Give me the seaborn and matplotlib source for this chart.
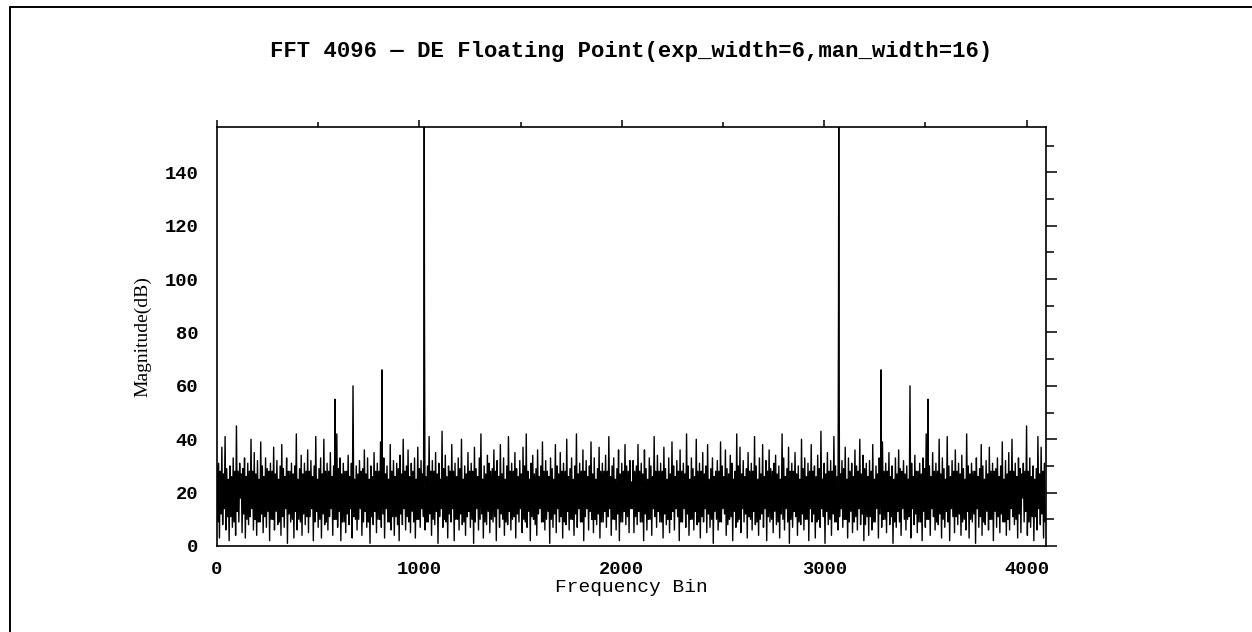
import matplotlib
matplotlib.use("Agg")
import matplotlib.pyplot as plt
from matplotlib.lines import Line2D
from matplotlib.ticker import MultipleLocator
import numpy as np
import pandas as pd
import seaborn as sns

# half spectrum (bins 0..2048), every 4 bins; the
# other half is the mirror image (real-input FFT)
N_FFT = 4096
BIN_STEP = 4
noise_db = [
    30, 9, 31, 3, 28, 12, 37, 8, 27, 14, 41, 6, 29, 11, 25, 2,
    30, 11, 26, 7, 33, 9, 28, 4, 45, 13, 28, 9, 31, 18, 27, 5,
    29, 12, 33, 3, 26, 10, 31, 8, 28, 11, 40, 14, 28, 6, 35, 10,
    27, 4, 32, 9, 25, 9, 39, 12, 30, 5, 26, 11, 33, 7, 29, 13,
    28, 2, 31, 10, 28, 10, 37, 6, 27, 13, 32, 8, 25, 9, 30, 4,
    38, 11, 29, 7, 26, 14, 33, 1, 28, 12, 28, 9, 31, 10, 27, 3,
    30, 13, 42, 6, 25, 10, 29, 9, 34, 4, 27, 12, 31, 8, 28, 11,
    36, 5, 28, 11, 32, 14, 26, 2, 30, 9, 41, 13, 25, 7, 29, 10,
    33, 3, 27, 12, 40, 8, 28, 9, 31, 6, 28, 11, 35, 14, 26, 4,
    30, 10, 25, 10, 42, 7, 29, 13, 33, 2, 27, 9, 31, 9, 28, 5,
    28, 12, 34, 8, 26, 14, 31, 3, 37, 11, 25, 10, 30, 6, 27, 10,
    32, 14, 28, 4, 29, 9, 36, 13, 27, 7, 33, 9, 25, 1, 30, 11,
    26, 8, 35, 13, 28, 5, 31, 10, 28, 10, 39, 7, 29, 12, 33, 3,
    27, 14, 30, 9, 25, 9, 38, 6, 28, 11, 32, 4, 26, 11, 31, 8,
    29, 2, 34, 12, 27, 8, 40, 14, 28, 6, 30, 11, 36, 9, 26, 5,
    31, 13, 28, 9, 33, 3, 25, 10, 37, 10, 29, 7, 32, 14, 27, 11,
    33, 6, 26, 9, 30, 9, 41, 12, 28, 4, 32, 10, 28, 8, 35, 13,
    27, 1, 31, 11, 25, 14, 43, 7, 29, 10, 34, 9, 26, 3, 30, 12,
    28, 9, 38, 14, 28, 2, 31, 10, 26, 10, 33, 6, 29, 12, 40, 8,
    25, 9, 30, 4, 27, 11, 35, 13, 28, 7, 31, 10, 28, 1, 37, 9,
    29, 14, 26, 6, 33, 10, 42, 12, 25, 3, 30, 9, 27, 8, 34, 13,
    31, 5, 28, 10, 29, 9, 36, 11, 28, 2, 32, 14, 26, 7, 38, 12,
    27, 10, 33, 4, 25, 9, 30, 8, 41, 13, 28, 6, 31, 10, 28, 11,
    35, 3, 29, 12, 26, 9, 32, 14, 27, 5, 37, 10, 30, 9, 42, 7,
    28, 13, 25, 2, 31, 11, 34, 10, 27, 8, 29, 4, 36, 12, 26, 14,
    30, 9, 39, 9, 28, 6, 32, 10, 28, 13, 26, 1, 33, 10, 29, 7,
    25, 12, 38, 5, 30, 14, 27, 9, 35, 11, 28, 3, 31, 9, 28, 8,
    40, 13, 26, 6, 29, 10, 33, 10, 25, 4, 30, 12, 42, 7, 27, 14,
    31, 9, 28, 9, 36, 2, 28, 11, 32, 14, 26, 6, 30, 13, 39, 10,
    27, 5, 33, 10, 25, 8, 29, 12, 37, 3, 28, 9, 31, 9, 28, 13,
    34, 7, 28, 11, 41, 14, 26, 4, 30, 10, 33, 10, 25, 6, 29, 12,
    36, 2, 27, 9, 31, 9, 28, 13, 38, 8, 30, 11, 28, 5, 32, 14,
    24,
]

# tone and spurs (half spectrum)
spur_bins = [583, 672, 815, 1023, 1024, 1025]
spur_db = [55, 60, 66, 91, 157, 91]

title = "FFT 4096 — DE Floating Point(exp_width=6,man_width=16)"
xlabel = "Frequency Bin"
ylabel = "Magnitude(dB)"

half = pd.Series(noise_db, index=np.arange(len(noise_db)) * BIN_STEP, dtype=float)
half = pd.concat([half, pd.Series(spur_db, index=spur_bins, dtype=float)])
half = half[~half.index.duplicated(keep="last")].sort_index()
upper = half[(half.index > 0) & (half.index < N_FFT // 2)]
upper.index = N_FFT - upper.index
spec = pd.concat([half, upper]).sort_index()
df = pd.DataFrame({"bin": spec.index, "db": spec.values})

sns.set_style("white")
plt.rcParams["font.family"] = ["Liberation Mono", "DejaVu Sans"]

fig = plt.figure(figsize=(12.52, 6.32), dpi=100)
ax = fig.add_axes([217 / 1252, 86 / 632, 829 / 1252, 419 / 632])

sns.lineplot(data=df, x="bin", y="db", ax=ax, color="black",
             linewidth=1.0, estimator=None, sort=True)

ax.set_xlim(0, N_FFT)
ax.set_ylim(0, 157)
ax.xaxis.set_major_locator(MultipleLocator(1000))
ax.xaxis.set_minor_locator(MultipleLocator(500))
ax.yaxis.set_major_locator(MultipleLocator(20))
ax.yaxis.set_minor_locator(MultipleLocator(10))

for sp in ax.spines.values():
    sp.set_visible(True)
    sp.set_color("black")
    sp.set_linewidth(1.2)

ax.tick_params(axis="both", which="both", direction="out", top=True,
               right=True, labeltop=False, labelright=False,
               color="black", width=1.1)
ax.tick_params(axis="y", which="major", length=8, pad=5.5)
ax.tick_params(axis="y", which="minor", length=5.8)
ax.tick_params(axis="x", which="major", length=5, pad=6)
ax.tick_params(axis="x", which="minor", length=3.3)
for lab in ax.get_xticklabels() + ax.get_yticklabels():
    lab.set_fontsize(13.5)
    lab.set_fontweight("bold")
    lab.set_color("black")

ax.set_xlabel(xlabel, fontsize=14, color="black")
ax.xaxis.label.set_va("center")
ax.xaxis.set_label_coords(0.5, -0.098)
ax.set_ylabel(ylabel, fontsize=14, color="black",
              family=["Liberation Serif", "DejaVu Serif"])
ax.yaxis.label.set_va("center")
ax.yaxis.set_label_coords(-0.089, 0.5)

fig.text(631.5 / 1252, 1 - 52 / 632, title, ha="center", va="center",
         fontsize=16, fontweight="bold", color="black")

# outer frame (only the top and left edges fall inside the image)
fig.add_artist(Line2D([9.5 / 1252, 1.0], [1 - 7 / 632, 1 - 7 / 632],
                      transform=fig.transFigure, color="black", lw=1.4))
fig.add_artist(Line2D([9.5 / 1252, 9.5 / 1252], [0.0, 1 - 7 / 632],
                      transform=fig.transFigure, color="black", lw=1.4))

fig.savefig("out.png", dpi=100)
plt.close(fig)
